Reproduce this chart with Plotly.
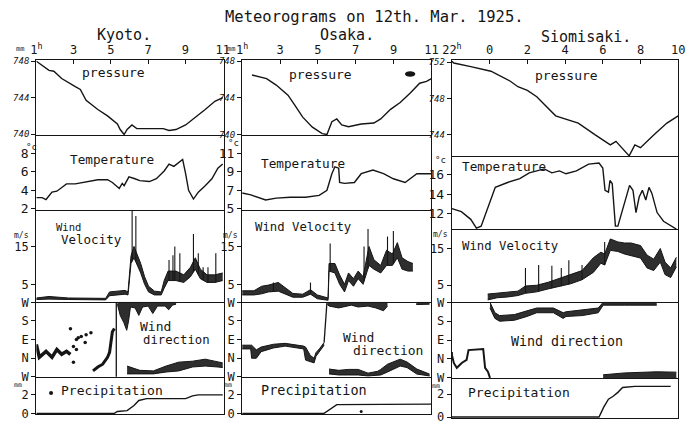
import numpy as np
import plotly.graph_objects as go

# ---------------- data ----------------
title_text = "Meteorograms on 12th. Mar. 1925."
station_names = ["Kyoto.", "Osaka.", "Siomisaki."]

kyoto_hour_ticks = [1, 3, 5, 7, 9, 11]
kyoto_hour_labels = ["1<sup>h</sup>", "3", "5", "7", "9", "11"]
osaka_hour_ticks = [1, 3, 5, 7, 9, 11]
osaka_hour_labels = ["1<sup>h</sup>", "3", "5", "7", "9", "11"]
sio_hour_ticks = [22, 24, 26, 28, 30, 32, 34]
sio_hour_labels = ["22<sup>h</sup>", "0", "2", "4", "6", "8", "10"]

kyoto_pressure_ticks = [740, 744, 748]
osaka_pressure_ticks = [740, 744, 748]
sio_pressure_ticks = [744, 748, 752]
kyoto_temp_ticks = [2, 4, 6, 8]
osaka_temp_ticks = [5, 7, 9, 11]
sio_temp_ticks = [12, 14, 16]
velocity_ticks = [5, 15]
direction_ticks = [0, 1, 2, 3, 4]
direction_labels = ["W", "N", "E", "S", "W"]
precip_ticks = [0, 2]

# pressure (mm)
kyoto_p_h = [1.0, 1.68, 1.94, 2.36, 3.09, 3.36, 3.67, 4.30, 4.82, 5.35, 5.50, 5.71, 5.87, 6.13, 6.39, 7.07, 7.81, 8.12, 8.49, 9.01, 9.53, 10.06, 10.58, 11.0]
kyoto_p = [748.0, 747.0, 746.9, 746.1, 745.2, 744.9, 743.7, 742.7, 742.0, 741.1, 740.5, 739.95, 740.5, 741.0, 740.6, 740.6, 740.6, 740.4, 740.5, 741.0, 741.8, 742.7, 743.6, 744.0]
osaka_p_h = [1.52, 2.29, 2.80, 3.42, 3.78, 4.20, 4.71, 5.23, 5.48, 5.74, 6.0, 6.26, 6.62, 7.29, 7.96, 8.32, 8.84, 9.35, 9.87, 10.38, 10.74, 11.0]
osaka_p = [746.5, 746.1, 745.4, 744.3, 743.2, 741.9, 740.8, 740.1, 740.0, 741.4, 741.7, 741.05, 740.85, 741.15, 741.25, 741.7, 742.75, 743.5, 744.5, 745.6, 745.8, 746.1]
sio_p_h = [22.0, 22.1, 23.0, 24.07, 25.1, 25.5, 26.0, 26.5, 27.5, 28.7, 29.6, 30.4, 30.7, 31.0, 31.4, 31.7, 32.0, 32.7, 33.4, 34.0]
sio_p = [752.1, 751.9, 751.5, 751.0, 749.9, 749.3, 748.9, 748.2, 746.1, 745.3, 744.0, 742.9, 743.3, 742.6, 741.7, 742.9, 742.6, 744.0, 745.3, 746.1]

# temperature (deg C)
kyoto_t_h = [1.0, 1.31, 1.52, 1.84, 2.10, 2.62, 3.09, 3.77, 4.30, 4.82, 5.08, 5.45, 5.61, 5.71, 5.97, 6.29, 6.55, 7.07, 7.44, 7.86, 8.12, 8.38, 8.85, 9.01, 9.17, 9.43, 9.69, 10.06, 10.42, 10.74, 11.0]
kyoto_t = [3.2, 3.2, 3.0, 3.8, 3.9, 4.7, 4.7, 4.95, 5.15, 5.15, 4.85, 4.2, 4.75, 4.5, 5.45, 5.25, 5.05, 4.95, 5.25, 6.1, 6.85, 6.6, 7.35, 5.8, 4.0, 3.05, 3.8, 4.5, 5.25, 6.4, 6.85]
osaka_t_h = [1.0, 1.46, 2.24, 2.80, 3.53, 4.35, 5.07, 5.48, 5.74, 5.90, 6.10, 6.15, 6.41, 6.93, 7.29, 7.91, 8.47, 8.99, 9.61, 9.87, 10.23, 10.64, 11.0]
osaka_t = [6.7, 6.5, 5.95, 6.15, 6.25, 6.25, 6.45, 7.0, 8.8, 9.55, 9.4, 7.85, 7.75, 7.85, 8.8, 9.2, 8.8, 8.25, 7.85, 8.25, 8.8, 8.8, 8.8]
sio_t_h = [22.0, 22.5, 23.0, 23.3, 23.55, 24.0, 24.3, 24.95, 25.6, 26.1, 26.9, 27.3, 27.7, 28.05, 28.6, 29.25, 29.8, 30.0, 30.12, 30.3, 30.38, 30.5, 30.67, 30.8, 31.16, 31.42, 31.6, 31.76, 31.93, 32.1, 32.28, 32.45, 32.6, 32.88, 33.22, 33.9]
sio_t = [12.5, 12.2, 11.4, 10.5, 10.7, 13.1, 14.7, 15.2, 15.6, 16.2, 16.6, 16.2, 16.4, 16.1, 16.4, 17.1, 17.2, 16.7, 14.4, 14.2, 15.4, 15.1, 10.7, 10.7, 13.1, 14.9, 14.4, 12.1, 13.7, 14.4, 13.4, 14.7, 14.1, 12.1, 11.2, 10.4]

# wind velocity (m/s): band low / high, plus gust spikes
kyoto_v_h = [1.0, 1.68, 2.73, 3.77, 4.72, 4.93, 5.35, 5.76, 5.92, 6.08, 6.24, 6.39, 6.60, 6.81, 7.02, 7.34, 7.70, 7.86, 8.07, 8.49, 8.91, 9.27, 9.53, 9.80, 10.16, 10.58, 11.0]
kyoto_v_lo = [1.0, 1.1, 1.0, 0.9, 0.9, 2.0, 2.2, 2.4, 2.2, 10.5, 12.0, 10.5, 8.0, 5.0, 3.0, 2.2, 2.2, 4.0, 6.0, 6.0, 5.5, 7.0, 9.0, 6.5, 5.5, 5.5, 6.0]
kyoto_v_hi = [1.4, 1.8, 1.4, 1.3, 1.3, 3.0, 3.2, 3.4, 3.0, 12.5, 15.0, 13.0, 10.5, 7.0, 4.5, 3.2, 3.0, 6.0, 8.5, 8.5, 7.5, 9.5, 12.0, 9.0, 7.5, 7.5, 8.0]
kyoto_gust_h = [6.14, 6.34, 8.12, 8.33, 8.43, 8.70, 9.43, 9.69, 9.95, 10.21, 10.63]
kyoto_gust = [24.7, 23.0, 11.4, 12.7, 15.0, 13.2, 18.3, 13.2, 9.5, 9.5, 13.2]

osaka_v_h = [1.0, 1.62, 2.03, 2.39, 2.91, 3.27, 3.68, 4.20, 4.61, 4.97, 5.33, 5.54, 5.59, 5.90, 6.15, 6.41, 6.62, 6.88, 7.13, 7.39, 7.70, 7.96, 8.32, 8.63, 8.94, 9.20, 9.45, 9.76, 10.02]
osaka_v_lo = [2.2, 2.2, 2.5, 3.0, 3.2, 2.5, 1.6, 1.6, 2.4, 1.2, 0.9, 0.8, 8.5, 8.0, 5.0, 3.0, 6.0, 4.5, 6.5, 5.0, 10.0, 9.0, 8.0, 10.0, 10.0, 12.0, 9.0, 8.5, 8.5]
osaka_v_hi = [3.3, 3.3, 4.5, 4.8, 5.5, 4.2, 2.6, 2.4, 3.6, 2.2, 1.6, 1.4, 10.5, 10.5, 7.5, 5.0, 8.0, 6.5, 8.5, 7.0, 15.0, 11.5, 10.0, 14.0, 13.0, 16.0, 12.0, 11.0, 10.5]
osaka_gust_h = [2.65, 4.61, 5.65, 7.44, 7.65, 8.68, 8.99]
osaka_gust = [5.5, 5.5, 15.8, 15.0, 19.6, 17.6, 19.1]

sio_v_h = [23.9, 24.4, 24.95, 25.5, 25.9, 26.5, 27.1, 27.7, 28.3, 28.9, 29.5, 29.9, 30.1, 30.4, 30.8, 31.15, 31.5, 32.0, 32.35, 32.7, 33.05, 33.3, 33.6, 33.9]
sio_v_lo = [1.0, 1.6, 1.8, 2.2, 2.8, 3.2, 4.0, 4.6, 5.4, 6.5, 8.5, 11.0, 10.5, 14.5, 14.2, 13.5, 13.0, 12.4, 9.7, 9.0, 11.3, 7.9, 7.1, 10.0]
sio_v_hi = [2.6, 2.8, 3.0, 3.4, 4.8, 5.0, 5.8, 6.8, 7.8, 9.0, 12.5, 14.0, 13.5, 17.6, 16.8, 16.5, 16.5, 15.8, 13.2, 12.1, 15.0, 11.3, 9.7, 12.6]
sio_gust_h = [25.9, 26.6, 27.3, 27.8, 28.2, 28.9, 30.1]
sio_gust = [9.7, 10.5, 10.3, 9.7, 11.8, 10.5, 16.8]

# wind direction (W=0, N=1, E=2, S=3, W=4)
kyoto_d1_h = [1.0, 1.16, 1.52, 1.84, 2.10, 2.36, 2.62, 2.83]
kyoto_d1 = [1.74, 1.05, 1.37, 1.05, 1.47, 1.21, 1.37, 1.21]
kyoto_dots_h = [2.83, 2.99, 2.99, 3.15, 3.25, 3.41, 3.62, 3.67, 3.93, 3.15]
kyoto_dots = [2.58, 1.63, 0.79, 2.0, 2.1, 2.16, 1.84, 2.26, 2.37, 1.47]
kyoto_d2_h = [4.04, 4.30, 4.56, 4.82, 4.93, 4.98, 5.08, 5.19]
kyoto_d2 = [0.32, 0.53, 0.68, 1.05, 1.32, 1.74, 2.42, 2.6]
kyoto_shift_h = 5.29
kyoto_dtop_h = [5.35, 5.5, 5.7, 5.85, 5.95, 6.05, 6.3, 6.5, 6.7, 7.0, 7.25, 7.5, 7.9, 8.1, 8.3, 8.5]
kyoto_dtop_lo = [3.9, 3.3, 2.9, 2.5, 3.0, 3.75, 3.7, 3.3, 3.75, 3.8, 3.4, 3.8, 3.8, 3.6, 3.85, 3.9]
kyoto_dbot_h = [5.87, 6.55, 7.28, 7.96, 8.64, 9.38, 10.06, 10.74, 11.0]
kyoto_dbot_lo = [0.16, 0.16, 0.16, 0.26, 0.32, 0.53, 0.58, 0.53, 0.5]
kyoto_dbot_hi = [0.58, 0.35, 0.32, 0.58, 0.79, 0.84, 0.95, 0.79, 0.75]

osaka_d1_h = [1.0, 1.45, 1.5, 1.75, 2.0, 2.65, 3.27, 4.25, 4.35, 4.6, 4.8, 4.9, 5.12, 5.33]
osaka_d1_lo = [1.5, 1.5, 1.0, 1.0, 1.35, 1.55, 1.65, 1.5, 0.9, 0.8, 0.75, 1.1, 1.4, 1.7]
osaka_d1_hi = [1.7, 1.7, 1.7, 1.45, 1.6, 1.75, 1.8, 1.65, 1.6, 1.15, 1.0, 1.3, 1.55, 1.85]
osaka_shift_h = [5.33, 5.48]
osaka_shift_d = [1.85, 4.0]
osaka_dtop_h = [5.5, 5.59, 6.1, 6.77, 7.13, 7.65, 8.06, 8.47, 8.68]
osaka_dtop_lo = [3.9, 3.8, 3.7, 3.85, 3.75, 3.8, 3.7, 3.55, 3.8]
osaka_dtop2_h = [10.2, 10.9]
osaka_dtop2_lo = [3.88, 3.9]
osaka_dbot_h = [5.59, 6.1, 6.62, 7.13, 7.65, 8.16, 8.32, 8.68, 9.35, 9.71, 10.23, 10.9]
osaka_dbot_lo = [0.16, 0.1, 0.1, 0.1, 0.05, 0.1, 0.1, 0.26, 0.58, 0.5, 0.15, 0.05]
osaka_dbot_hi = [0.42, 0.35, 0.4, 0.4, 0.2, 0.3, 0.4, 0.68, 0.95, 0.8, 0.42, 0.15]

sio_d1_h = [22.0, 22.0, 22.1, 22.26, 22.52, 22.78, 22.88, 23.66, 23.76, 23.91, 24.02]
sio_d1 = [1.37, 1.21, 0.79, 0.53, 0.79, 0.95, 1.47, 1.53, 0.53, 0.32, 0.0]
sio_dtop_h = [24.02, 24.28, 24.53, 25.31, 25.98, 26.5, 27.38, 27.9, 28.05, 28.93, 29.76, 30.02, 31.16, 32.86]
sio_dtop_lo = [3.7, 3.15, 3.0, 3.05, 3.25, 3.45, 3.45, 3.15, 3.25, 3.3, 3.45, 3.85, 3.85, 3.85]
sio_dtop_hi = [4.0, 3.45, 3.3, 3.35, 3.55, 3.7, 3.7, 3.45, 3.5, 3.6, 3.7, 4.0, 4.0, 4.0]
sio_dbot_h = [30.02, 31.16, 32.86, 33.9]
sio_dbot_hi = [0.16, 0.26, 0.32, 0.3]

# precipitation (mm)
kyoto_r_h = [1.0, 5.19, 5.35, 5.87, 6.24, 6.50, 6.92, 9.01, 9.38, 9.69, 11.0]
kyoto_r = [0.0, 0.0, 0.2, 0.3, 0.85, 1.4, 1.6, 1.6, 1.9, 2.0, 2.0]
kyoto_r_dot_h = [1.79]
kyoto_r_dot = [2.2]
osaka_r_h = [1.0, 5.33, 6.0, 11.0]
osaka_r = [0.0, 0.0, 0.95, 1.0]
osaka_r_dot_h = [7.29]
osaka_r_dot = [0.2]
sio_r_h = [22.0, 29.8, 30.05, 30.3, 30.55, 30.8, 31.05, 31.7, 33.6]
sio_r = [0.0, 0.0, 0.87, 1.57, 1.83, 2.17, 2.6, 2.7, 2.7]

# ---------------- geometry / style ----------------
W, H = 694, 430
INK = "#151515"
FILL = "#2e2e2e"
FONT = "DejaVu Sans Mono"
LW = 1.3

col_px = [(27, 219), (238, 432), (453, 685)]
x_ranges = [(1, 11.05), (1, 11.0), (22, 34)]
row_px = [
    [(56, 133), (133, 210), (210, 305), (305, 383), (383, 421)],
    [(56, 133), (133, 210), (210, 305), (305, 383), (383, 421)],
    [(56, 155), (155, 230), (230, 305), (305, 384), (384, 425)],
]
y_ranges = [
    [(739.9, 748.1), (1.9, 10.0), (0.4, 24.7), (-0.03, 4.03), (-0.1, 3.9)],
    [(739.95, 748.1), (4.9, 13.0), (0.4, 24.7), (-0.03, 4.03), (-0.1, 3.9)],
    [(741.65, 752.2), (10.4, 17.9), (0.5, 20.3), (-0.03, 4.03), (-0.1, 3.4)],
]
hour_ticks = [(kyoto_hour_ticks, kyoto_hour_labels), (osaka_hour_ticks, osaka_hour_labels), (sio_hour_ticks, sio_hour_labels)]
y_ticks = [
    [kyoto_pressure_ticks, kyoto_temp_ticks, velocity_ticks, direction_ticks, precip_ticks],
    [osaka_pressure_ticks, osaka_temp_ticks, velocity_ticks, direction_ticks, precip_ticks],
    [sio_pressure_ticks, sio_temp_ticks, velocity_ticks, direction_ticks, precip_ticks],
]
row_font = [
    dict(size=9, style="italic"), dict(size=13), dict(size=12), dict(size=12), dict(size=12)
]

fig = go.Figure()
layout = dict(
    width=W, height=H, margin=dict(l=0, r=0, t=0, b=0),
    paper_bgcolor="white", plot_bgcolor="white", showlegend=False,
    font=dict(family=FONT, color=INK, size=12),
)


def idx(s, r):
    return s * 5 + r + 1


def nm(i):
    return "" if i == 1 else str(i)


for s in range(3):
    x0, x1 = col_px[s]
    for r in range(5):
        i = idx(s, r)
        y0, y1 = row_px[s][r]
        xa = dict(domain=[x0 / W, x1 / W], range=list(x_ranges[s]), showgrid=False, zeroline=False,
                  showline=True, linecolor=INK, linewidth=LW, fixedrange=True,
                  anchor="y" + nm(i))
        if r == 0:
            xa.update(side="top", mirror=True, ticks="inside", ticklen=4, tickcolor=INK, tickwidth=1.2,
                      tickvals=hour_ticks[s][0], ticktext=hour_ticks[s][1],
                      tickfont=dict(size=12, family=FONT, color=INK))
        else:
            xa.update(side="bottom", mirror=False, showticklabels=False, ticks="")
        ya = dict(domain=[1 - y1 / H, 1 - y0 / H], range=list(y_ranges[s][r]), showgrid=False,
                  zeroline=False, showline=True, mirror=True, linecolor=INK, linewidth=LW,
                  ticks="outside", ticklen=4, tickcolor=INK, tickwidth=1.2, fixedrange=True,
                  tickvals=y_ticks[s][r], anchor="x" + nm(i),
                  tickfont=dict(family=FONT, color=INK, **row_font[r]))
        if r == 3:
            ya["ticktext"] = direction_labels
        layout["xaxis" + nm(i)] = xa
        layout["yaxis" + nm(i)] = ya


def line(s, r, x, y, width=1.4, mode="lines", msize=3):
    i = idx(s, r)
    fig.add_trace(go.Scatter(x=x, y=y, mode=mode, line=dict(color=INK, width=width),
                             marker=dict(color=INK, size=msize), hoverinfo="skip",
                             xaxis="x" + nm(i), yaxis="y" + nm(i)))


def band(s, r, x, lo, hi):
    i = idx(s, r)
    fig.add_trace(go.Scatter(x=x, y=lo, mode="lines", line=dict(color=INK, width=1),
                             hoverinfo="skip", xaxis="x" + nm(i), yaxis="y" + nm(i)))
    fig.add_trace(go.Scatter(x=x, y=hi, mode="lines", line=dict(color=INK, width=1),
                             fill="tonexty", fillcolor=FILL, hoverinfo="skip",
                             xaxis="x" + nm(i), yaxis="y" + nm(i)))


def spikes(s, r, gh, gv, bh, blo):
    xs, ys = [], []
    for h, v in zip(gh, gv):
        base = float(np.interp(h, bh, blo))
        xs += [h, h, None]
        ys += [base, v, None]
    line(s, r, xs, ys, width=1.1)


# pressure
line(0, 0, kyoto_p_h, kyoto_p)
line(1, 0, osaka_p_h, osaka_p)
line(2, 0, sio_p_h, sio_p)
# temperature
line(0, 1, kyoto_t_h, kyoto_t)
line(1, 1, osaka_t_h, osaka_t)
line(2, 1, sio_t_h, sio_t)
# wind velocity
band(0, 2, kyoto_v_h, kyoto_v_lo, kyoto_v_hi)
spikes(0, 2, kyoto_gust_h, kyoto_gust, kyoto_v_h, kyoto_v_lo)
band(1, 2, osaka_v_h, osaka_v_lo, osaka_v_hi)
spikes(1, 2, osaka_gust_h, osaka_gust, osaka_v_h, osaka_v_lo)
band(2, 2, sio_v_h, sio_v_lo, sio_v_hi)
spikes(2, 2, sio_gust_h, sio_gust, sio_v_h, sio_v_lo)
# wind direction
line(0, 3, kyoto_d1_h, kyoto_d1, width=3.5)
line(0, 3, kyoto_dots_h, kyoto_dots, mode="markers", msize=3.5)
line(0, 3, kyoto_d2_h, kyoto_d2, width=3)
line(0, 3, [kyoto_shift_h, kyoto_shift_h], [direction_ticks[0], direction_ticks[-1]], width=1.3)
band(0, 3, kyoto_dtop_h, kyoto_dtop_lo, [direction_ticks[-1]] * len(kyoto_dtop_h))
band(0, 3, kyoto_dbot_h, kyoto_dbot_lo, kyoto_dbot_hi)
band(1, 3, osaka_d1_h, osaka_d1_lo, osaka_d1_hi)
line(1, 3, osaka_shift_h, osaka_shift_d, width=1.3)
band(1, 3, osaka_dtop_h, osaka_dtop_lo, [direction_ticks[-1]] * len(osaka_dtop_h))
band(1, 3, osaka_dtop2_h, osaka_dtop2_lo, [direction_ticks[-1]] * len(osaka_dtop2_h))
band(1, 3, osaka_dbot_h, osaka_dbot_lo, osaka_dbot_hi)
line(2, 3, sio_d1_h, sio_d1, width=2)
band(2, 3, sio_dtop_h, sio_dtop_lo, sio_dtop_hi)
band(2, 3, sio_dbot_h, [direction_ticks[0]] * len(sio_dbot_h), sio_dbot_hi)
# precipitation
line(0, 4, kyoto_r_h, kyoto_r)
line(0, 4, kyoto_r_dot_h, kyoto_r_dot, mode="markers", msize=4)
line(1, 4, osaka_r_h, osaka_r)
line(1, 4, osaka_r_dot_h, osaka_r_dot, mode="markers", msize=3)
line(2, 4, sio_r_h, sio_r)


# ---------------- text ----------------
def text(t, px, py, size=13):
    return dict(text=t, x=px / W, y=1 - py / H, xref="paper", yref="paper", showarrow=False,
                xanchor="center", yanchor="middle",
                font=dict(family=FONT, size=size, color=INK))


ann = [
    text(title_text, 374, 11, 15.5),
    text(station_names[0], 117, 30, 15),
    text(station_names[1], 345, 30, 15),
    text(station_names[2], 590, 32, 15),
    text("pressure", 106, 69, 13),
    text("pressure", 318, 71, 13),
    text("pressure", 570, 72, 13),
    text("Temperature", 105, 158, 12.7),
    text("Temperature", 300, 162, 12.7),
    text("Temperature", 506, 165, 12.7),
    text("Wind", 60, 228, 10.5),
    text("Velocity", 84, 241, 12.5),
    text("Wind Velocity", 300, 228, 12.3),
    text("Wind Velocity", 513, 247, 12.3),
    text("Wind", 149, 331, 13),
    text("direction", 171, 344, 12.3),
    text("Wind", 357, 342, 13),
    text("direction", 387, 355, 13),
    text("Wind direction", 571, 346, 13.3),
    text("Precipitation", 105, 396, 13),
    text("Precipitation", 312, 396, 13.5),
    text("Precipitation", 522, 399, 13),
    # units
    text("mm", 10, 44, 7), text("mm", 227, 44, 7),
    text("°c", 22, 145, 9), text("°c", 229, 141, 9), text("°c", 441, 159, 9),
    text("m/s", 12, 237, 8), text("m/s", 226, 237, 8), text("m/s", 441, 236, 8),
    text("mm", 8, 391, 6.5), text("mm", 223, 391, 6.5), text("mm", 437, 392, 6.5),
]
layout["annotations"] = ann
# ink blot on the Osaka pressure sheet
layout["shapes"] = [dict(type="circle", xref="x" + nm(idx(1, 0)), yref="y" + nm(idx(1, 0)),
                         x0=9.6, x1=10.15, y0=746.3, y1=746.9, fillcolor=INK, line=dict(width=0))]

fig.update_layout(**layout)
fig.write_html("out.html")
